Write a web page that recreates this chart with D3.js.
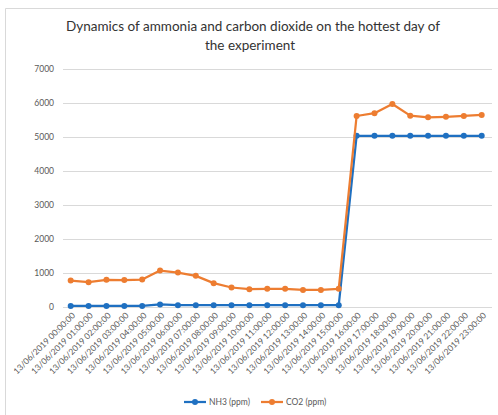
<!DOCTYPE html>
<html>
<head>
<meta charset="utf-8">
<script src="https://cdn.jsdelivr.net/npm/d3@7"></script>
<style>
  body { margin: 0; background: #fff; }
  text { font-family: Lato, "Open Sans", sans-serif; }
</style>
</head>
<body>
<div id="chart"></div>
<script>
const hours = d3.range(24).map(h => `13/06/2019 ${String(h).padStart(2, "0")}:00:00`);
const nh3 = [15, 15, 15, 15, 15, 60, 40, 40, 40, 40, 40, 40, 40, 40, 40, 40,
  5030, 5030, 5030, 5030, 5030, 5030, 5030, 5030];
const co2 = [765, 717, 785, 780, 795, 1060, 1000, 903, 688, 560, 510, 520, 520, 490, 490, 520,
  5615, 5697, 5970, 5625, 5575, 5590, 5615, 5645];
const yTicks = [0, 1000, 2000, 3000, 4000, 5000, 6000, 7000];
const seriesNames = ["NH3 (ppm)", "CO2 (ppm)"];
const colors = ["#1f70c1", "#ed7d31"];

const W = 498, H = 415;
const svg = d3.select("#chart").append("svg")
  .attr("width", W).attr("height", H);

// chart frame (only top and left edges show in the crop)
svg.append("path")
  .attr("d", `M5.5,${H} V8.5 H${W}`)
  .attr("fill", "none").attr("stroke", "#d9d9d9");

// title
const title = svg.append("text")
  .attr("text-anchor", "middle")
  .attr("font-size", 13.5)
  .attr("fill", "#333");
title.append("tspan").attr("x", 253).attr("y", 31)
  .text("Dynamics of ammonia and carbon dioxide on the hottest day of");
title.append("tspan").attr("x", 250).attr("y", 50)
  .text("the experiment");

const x = d3.scalePoint().domain(hours).range([70.7, 481.7]);
const y = d3.scaleLinear().domain([0, 7000]).range([306.5, 69]);

// gridlines
svg.append("g").selectAll("line").data(yTicks).join("line")
  .attr("x1", 63).attr("x2", 492)
  .attr("y1", d => Math.round(y(d)) + 0.5).attr("y2", d => Math.round(y(d)) + 0.5)
  .attr("stroke", "#d9d9d9").attr("stroke-width", 1);

// y axis labels
svg.append("g").selectAll("text").data(yTicks).join("text")
  .attr("x", 54).attr("y", d => y(d) + 3)
  .attr("text-anchor", "end").attr("font-size", 8.5).attr("fill", "#595959")
  .text(d => d);

// x axis labels
svg.append("g").selectAll("text").data(hours).join("text")
  .attr("text-anchor", "end").attr("font-size", 8.5).attr("fill", "#595959")
  .attr("transform", d => `translate(${x(d) + 5},${316}) rotate(-45)`)
  .text(d => d);

// series
const series = [nh3, co2];
const line = d3.line().x((d, i) => x(hours[i])).y(d => y(d));
series.forEach((vals, k) => {
  const g = svg.append("g");
  g.append("path").datum(vals)
    .attr("d", line).attr("fill", "none")
    .attr("stroke", colors[k]).attr("stroke-width", 2.25)
    .attr("stroke-linejoin", "round");
  g.selectAll("circle").data(vals).join("circle")
    .attr("cx", (d, i) => x(hours[i])).attr("cy", d => y(d))
    .attr("r", 3).attr("fill", colors[k]);
});

// legend
const legendX = [184, 261];
seriesNames.forEach((name, k) => {
  const lg = svg.append("g").attr("transform", `translate(${legendX[k]},402)`);
  lg.append("line").attr("x1", 0).attr("x2", 22)
    .attr("stroke", colors[k]).attr("stroke-width", 2.25);
  lg.append("circle").attr("cx", 11).attr("r", 3).attr("fill", colors[k]);
  lg.append("text").attr("x", 25).attr("y", 3)
    .attr("font-size", 8.5).attr("fill", "#595959").text(name);
});
</script>
</body>
</html>
